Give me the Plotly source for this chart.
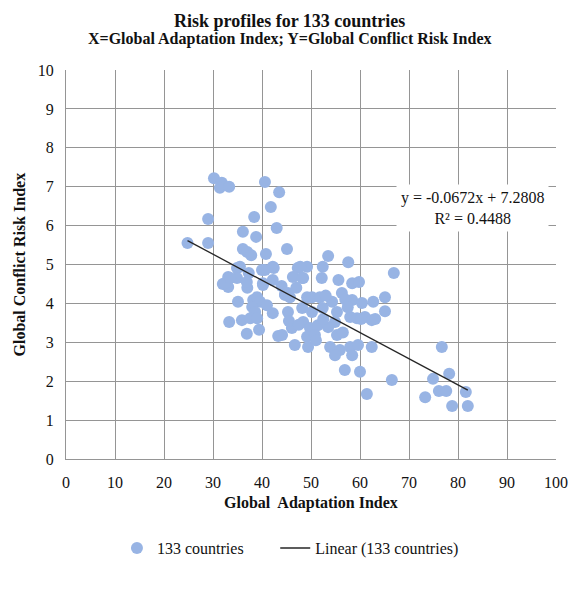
import plotly.graph_objects as go

gain_index = [24.8, 29.0, 29.0, 30.2, 31.8, 31.4, 33.3, 40.6, 43.5, 41.8,
              38.4, 43.0, 36.1, 38.8, 36.1, 37.0, 37.8, 40.8, 45.1, 53.5,
              57.6, 34.9, 37.3, 40.0, 42.2, 47.3, 49.2, 52.4, 66.9, 33.1,
              34.9, 32.0, 33.1, 37.0, 40.2, 42.2, 46.3, 48.4, 52.2, 55.6,
              58.4, 59.8, 35.1, 38.2, 39.0, 39.6, 45.3, 44.7, 45.7, 49.2,
              50.2, 51.8, 56.3, 54.3, 58.4, 60.4, 62.7, 65.1, 38.0, 38.6,
              42.2, 45.3, 48.2, 50.2, 52.4, 55.3, 65.1, 33.3, 35.9, 37.6,
              39.0, 58.0, 59.4, 61.0, 62.4, 63.1, 48.4, 54.9, 36.9, 39.4,
              43.3, 46.1, 49.8, 51.4, 53.5, 44.1, 49.2, 50.8, 55.3, 46.7,
              49.4, 53.9, 55.9, 58.0, 59.6, 62.4, 54.9, 58.4, 56.9, 60.0,
              61.4, 76.7, 66.5, 74.9, 78.2, 76.1, 77.6, 73.3, 81.6, 78.8,
              82.0, 35.5, 42.4, 32.4, 33.5, 36.9, 40.6, 40.2, 47.8, 48.2,
              44.7, 57.0, 60.2, 45.5, 47.5, 51.0, 52.5, 41.0, 44.0, 56.5,
              53.0, 47.0, 57.5]
gcri_index = [5.55, 6.17, 5.55, 7.22, 7.10, 6.97, 7.00, 7.12, 6.86, 6.48,
              6.22, 5.94, 5.84, 5.71, 5.40, 5.32, 5.24, 5.27, 5.40, 5.22,
              5.06, 4.91, 4.78, 4.86, 4.94, 4.91, 4.94, 4.94, 4.78, 4.68,
              4.65, 4.50, 4.42, 4.40, 4.47, 4.60, 4.68, 4.65, 4.65, 4.60,
              4.52, 4.55, 4.04, 4.09, 4.16, 4.04, 4.27, 4.22, 4.16, 4.16,
              4.16, 4.16, 4.27, 4.04, 4.09, 4.01, 4.04, 4.16, 3.91, 3.78,
              3.75, 3.78, 3.88, 3.78, 3.88, 3.78, 3.80, 3.52, 3.57, 3.62,
              3.62, 3.65, 3.62, 3.65, 3.57, 3.60, 3.52, 3.52, 3.22, 3.32,
              3.16, 3.37, 3.37, 3.44, 3.39, 3.19, 3.14, 3.19, 3.19, 2.93,
              2.88, 2.88, 2.80, 2.88, 2.93, 2.88, 2.67, 2.67, 2.29, 2.24,
              1.67, 2.88, 2.03, 2.06, 2.19, 1.75, 1.75, 1.59, 1.72, 1.36,
              1.36, 4.94, 4.91, 4.52, 4.65, 4.55, 4.86, 4.52, 4.94, 4.65,
              4.22, 4.10, 3.60, 3.55, 3.45, 3.05, 3.60, 3.95, 4.45, 3.25,
              4.20, 4.40, 3.90]

slope = -0.0672
intercept = 7.2808
r_squared = 0.4488

x_ticks = list(range(0, 101, 10))
y_ticks = list(range(0, 11, 1))

serif = "Liberation Serif, Times New Roman, serif"
txt = "#111"
grid = "#959595"

x_line = [min(gain_index), max(gain_index)]
y_line = [slope * v + intercept for v in x_line]

fig = go.Figure()
fig.add_trace(go.Scatter(
    x=gain_index, y=gcri_index, mode="markers", name="133 countries",
    marker=dict(color="#98b4e4", size=12, line=dict(width=0)),
    legend="legend",
))
fig.add_trace(go.Scatter(
    x=x_line, y=y_line, mode="lines", name="Linear (133 countries)",
    line=dict(color="#262626", width=1.3),
    legend="legend2",
))

# trendline equation label
fig.add_annotation(
    x=0.829, y=0.645, xref="paper", yref="paper", xanchor="center", yanchor="middle",
    text=f"y = {slope}x + {intercept}<br>R\u00b2 = {r_squared}", showarrow=False, align="center",
    font=dict(family=serif, size=16, color=txt), bgcolor="white", borderpad=4,
)
# titles
fig.add_annotation(
    x=0.457, y=1.126, xref="paper", yref="paper", xanchor="center", yanchor="middle",
    text="<b>Risk profiles for 133 countries</b>", showarrow=False,
    font=dict(family=serif, size=18, color=txt),
)
fig.add_annotation(
    x=0.457, y=1.080, xref="paper", yref="paper", xanchor="center", yanchor="middle",
    text="<b>X=Global Adaptation Index; Y=Global Conflict Risk Index</b>", showarrow=False,
    font=dict(family=serif, size=16, color=txt),
)
# axis titles
fig.add_annotation(
    x=0.501, y=-0.113, xref="paper", yref="paper", xanchor="center", yanchor="middle",
    text="<b>Global  Adaptation Index</b>", showarrow=False,
    font=dict(family=serif, size=16, color=txt),
)
fig.add_annotation(
    x=-0.094, y=0.5, xref="paper", yref="paper", xanchor="center", yanchor="middle",
    text="<b>Global Conflict Risk Index</b>", showarrow=False, textangle=-90,
    font=dict(family=serif, size=16, color=txt),
)

legend_font = dict(family=serif, size=16, color=txt)
fig.update_layout(
    width=580, height=589,
    margin=dict(l=66, r=24, t=70, b=130),
    paper_bgcolor="white", plot_bgcolor="white",
    font=dict(family=serif, size=16, color=txt),
    xaxis=dict(
        range=[0, 100], tickvals=x_ticks, showgrid=True, gridcolor=grid, gridwidth=1,
        zeroline=False, showline=True, linecolor=grid, ticks="outside", ticklen=9,
        tickcolor="rgba(0,0,0,0)",
        tickfont=dict(family=serif, size=16, color=txt),
    ),
    yaxis=dict(
        range=[0, 10], tickvals=y_ticks, showgrid=True, gridcolor=grid, gridwidth=1,
        zeroline=False, showline=True, linecolor=grid, ticks="outside", ticklen=8,
        tickcolor="rgba(0,0,0,0)",
        tickfont=dict(family=serif, size=16, color=txt),
    ),
    legend=dict(
        orientation="h", x=0.104, xanchor="left", y=-0.229, yanchor="middle",
        font=legend_font,
    ),
    legend2=dict(
        orientation="h", x=0.427, xanchor="left", y=-0.229, yanchor="middle",
        font=legend_font,
    ),
    showlegend=True,
)

fig.write_html("out.html")
